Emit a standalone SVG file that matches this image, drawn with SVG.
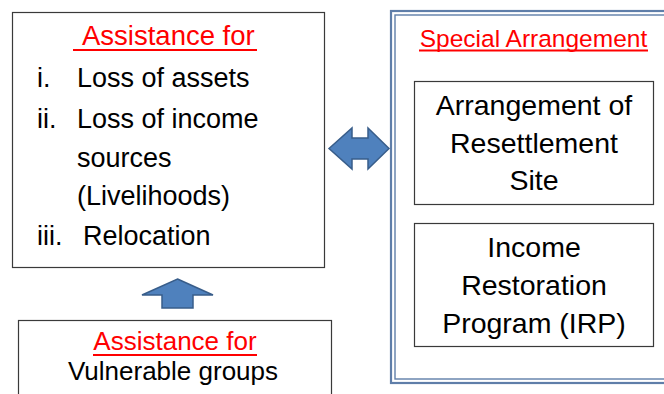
<svg xmlns="http://www.w3.org/2000/svg" width="664" height="394" viewBox="0 0 664 394">
<style>
  text { font-family: "Liberation Sans", Arial, sans-serif; fill: #000; }
  .red { fill: #ff0000; }
  .ul { stroke: #ff0000; stroke-width: 2.2; }
  .box { fill: #fff; stroke: #3a3a3a; stroke-width: 1.2; }
  .arrow { fill: #4f81bd; stroke: #385d8a; stroke-width: 1.5; stroke-linejoin: miter; }
  .dbl { fill: none; stroke: #5f7ea9; }
  .mid { text-anchor: middle; }
</style>
<rect width="664" height="394" fill="#fff"/>

<g id="assistance-main">
  <rect class="box" x="12.5" y="12.5" width="312" height="255"/>
  <text class="red" x="82" y="45" font-size="27.5">Assistance for</text>
  <line class="ul" x1="73" y1="50" x2="257" y2="50"/>
  <text x="37" y="87" font-size="27">i.</text>
  <text x="77" y="87" font-size="27">Loss of assets</text>
  <text x="37" y="128" font-size="27">ii.</text>
  <text x="77" y="128" font-size="27">Loss of income</text>
  <text x="77" y="167" font-size="27">sources</text>
  <text x="77" y="205" font-size="27">(Livelihoods)</text>
  <text x="37" y="245" font-size="27">iii.</text>
  <text x="83" y="245" font-size="27">Relocation</text>
</g>

<g id="special-arrangement">
  <rect class="dbl" x="391" y="11" width="290" height="372" stroke-width="2.2"/>
  <rect class="dbl" x="395" y="15" width="290" height="364" stroke-width="1.4"/>
  <text class="red mid" x="533.5" y="47" font-size="24.5">Special Arrangement</text>
  <line class="ul" x1="419" y1="50.5" x2="648" y2="50.5"/>
</g>

<g id="resettlement-site">
  <rect class="box" x="414.5" y="81.5" width="239" height="123"/>
  <text class="mid" x="534" y="115" font-size="28.5">Arrangement of</text>
  <text class="mid" x="534" y="153" font-size="28.5">Resettlement</text>
  <text class="mid" x="534" y="190" font-size="28.5">Site</text>
</g>

<g id="irp">
  <rect class="box" x="414.5" y="223.5" width="239" height="123"/>
  <text class="mid" x="534" y="257" font-size="28.5">Income</text>
  <text class="mid" x="534" y="295" font-size="28.5">Restoration</text>
  <text class="mid" x="534" y="333" font-size="28.5">Program (IRP)</text>
</g>

<g id="vulnerable-groups">
  <rect class="box" x="18.5" y="320.5" width="313" height="80"/>
  <text class="red mid" x="175" y="350" font-size="26">Assistance for</text>
  <line class="ul" x1="93" y1="355" x2="257" y2="355"/>
  <text class="mid" x="173" y="380" font-size="26">Vulnerable groups</text>
</g>

<g id="connectors">
  <path class="arrow" d="M329,148.5 L352,128 L352,138 L368,138 L368,128 L389,148.5 L368,169 L368,159 L352,159 L352,169 Z"/>
  <path class="arrow" d="M177.5,279 L213,295 L193,295 L193,308 L162,308 L162,295 L142,295 Z"/>
</g>
</svg>
